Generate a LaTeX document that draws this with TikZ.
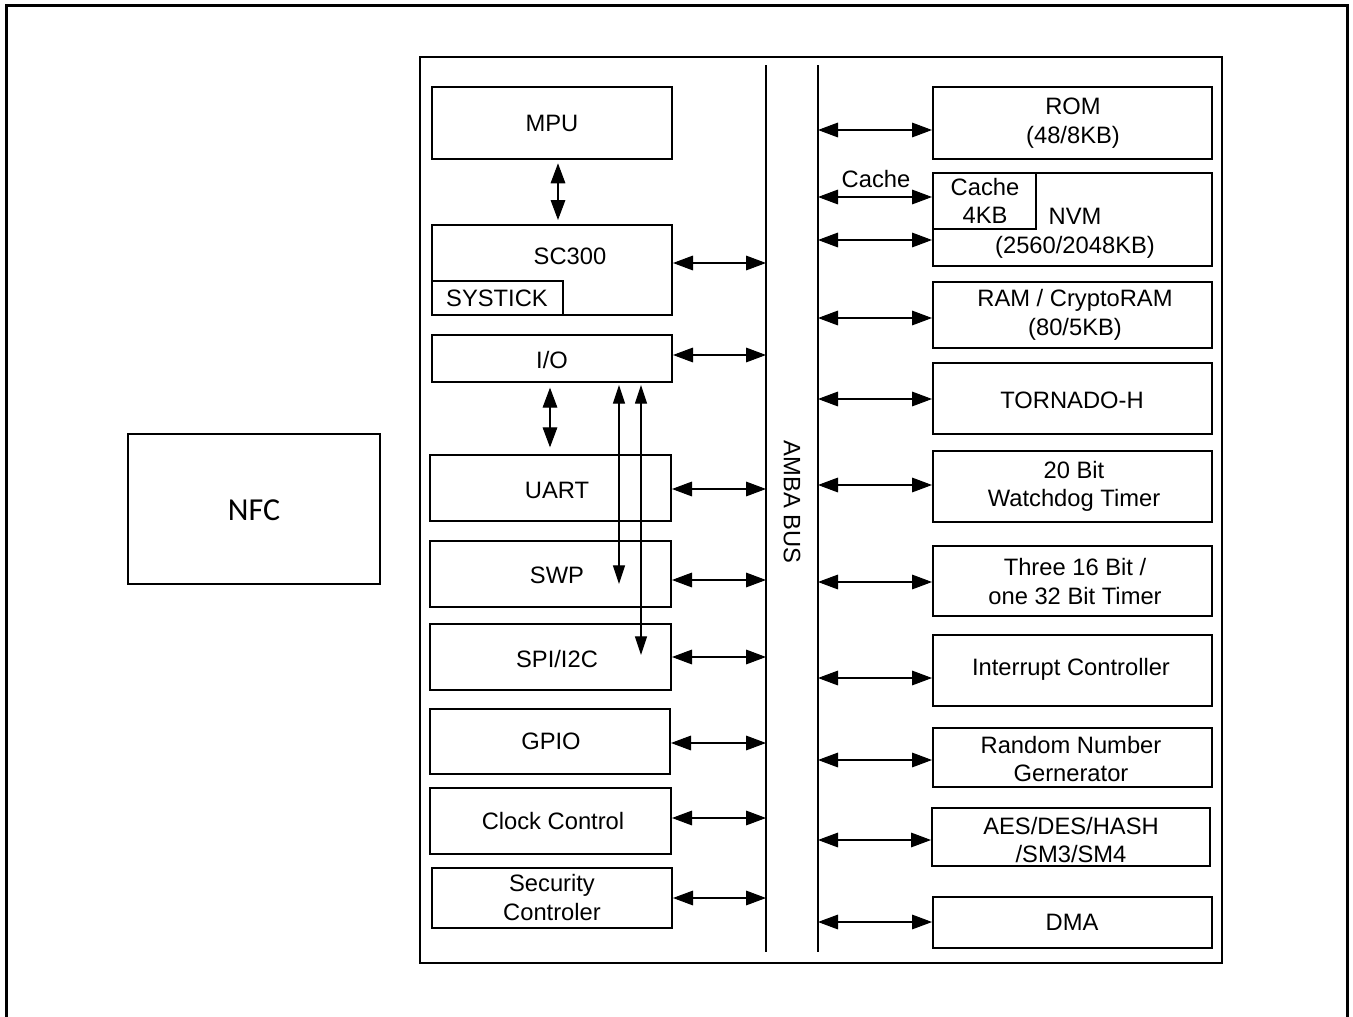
\documentclass[tikz,border=0pt]{standalone}
\usepackage{fontspec}
\setmainfont{Liberation Sans}
\newfontfamily\nfcfont{Carlito}
\usetikzlibrary{arrows.meta,fit}
\begin{document}
\begin{tikzpicture}[x=0.75pt,y=-0.75pt,
  txt/.style={font=\fontsize{17.8}{21.5}\selectfont},
  box/.style={draw, line width=1.5pt, inner sep=0pt},
  lbl/.style={inner sep=0pt, align=center, txt},
  biarrow/.style={line width=0.8pt, {Triangle[length=15pt,width=11pt]}-{Triangle[length=15pt,width=11pt]}},
  xarrow/.style={line width=0.8pt, {Triangle[length=14pt,width=9pt]}-{Triangle[length=14pt,width=9pt]}},
  busline/.style={line width=1.5pt},
  frame/.style={draw, line width=1.5pt, inner sep=0pt}]
\useasboundingbox (0,0) rectangle (1353,1017);
% outer frame (open at bottom)
\draw[line width=2.25pt] (6.5,1025) -- (6.5,5) -- (1347.5,5) -- (1347.5,1025);
% NFC
\node[frame, fit={(128,434) (380,584)}] (nfc) {};
\node[inner sep=0pt, font=\nfcfont\fontsize{24}{28}\selectfont] (nfct) at (254,510) {NFC};
% inner frame
\node[frame, fit={(420,57) (1222,963)}] (chip) {};
% bus
\coordinate (busLt) at (766,65); \coordinate (busLb) at (766,952);
\coordinate (busRt) at (818,65); \coordinate (busRb) at (818,952);
\draw[busline] (busLt) -- (busLb);
\draw[busline] (busRt) -- (busRb);
\node[lbl, rotate=-90] (amba) at (792,502) {AMBA BUS};
% left column
\node[box, fit={(432,87) (672,159)}] (mpu) {};
\node[lbl] (mput) at (552,123) {MPU};
\node[box, fit={(432,225) (672,315)}] (sc300) {};
\node[lbl] (sc300t) at (570,256) {SC300};
\node[box, fit={(432,281) (563,315)}] (systick) {};
\node[lbl] (systickt) at (497,298) {SYSTICK};
\node[box, fit={(432,335) (672,382)}] (io) {};
\node[lbl] (iot) at (552,360) {I/O};
\node[box, fit={(430,455) (671,521)}] (uart) {};
\node[lbl] (uartt) at (557,490) {UART};
\node[box, fit={(430,541) (671,607)}] (swp) {};
\node[lbl] (swpt) at (557,575) {SWP};
\node[box, fit={(430,624) (671,690)}] (spi) {};
\node[lbl] (spit) at (557,659) {SPI/I2C};
\node[box, fit={(430,709) (670,774)}] (gpio) {};
\node[lbl] (gpiot) at (551,741) {GPIO};
\node[box, fit={(430,788) (671,854)}] (clk) {};
\node[lbl] (clkt) at (553,821) {Clock Control};
\node[box, fit={(432,868) (672,928)}] (sec) {};
\node[lbl] (sect) at (552,897.5) {Security\\Controler};
% left vertical arrows
\draw[biarrow, shorten <=2.5pt, shorten >=3pt] (mpu.south -| 558,0) -- (sc300.north -| 558,0);
\draw[biarrow, shorten <=3.5pt, shorten >=5pt] (io.south -| 550,0) -- (uart.north -| 550,0);
\draw[xarrow, shorten <=1.5pt] (io.south -| 619,0) -- (619,584);
\draw[xarrow, shorten <=1.5pt] (io.south -| 641,0) -- (641,655);
% left horizontal arrows
\draw[biarrow] (sc300.east |- 0,263) -- (busLt |- 0,263);
\draw[biarrow] (io.east |- 0,355) -- (busLt |- 0,355);
\draw[biarrow] (uart.east |- 0,489) -- (busLt |- 0,489);
\draw[biarrow] (swp.east |- 0,580) -- (busLt |- 0,580);
\draw[biarrow] (spi.east |- 0,657) -- (busLt |- 0,657);
\draw[biarrow] (gpio.east |- 0,743) -- (busLt |- 0,743);
\draw[biarrow] (clk.east |- 0,818) -- (busLt |- 0,818);
\draw[biarrow] (sec.east |- 0,898) -- (busLt |- 0,898);
% right column
\node[box, fit={(933,87) (1212,159)}] (rom) {};
\node[lbl] (romt) at (1073,123) {ROM\\(48/8KB)};
\node[box, fit={(933,173) (1212,266)}] (nvm) {};
\node[box, fit={(933,173) (1036,229)}] (cache) {};
\node[lbl] (cachet) at (985,201) {Cache\\4KB};
\node[lbl] (nvmt) at (1075,233.5) {NVM\\(2560/2048KB)};
\node[box, fit={(933,282) (1212,348)}] (ram) {};
\node[lbl] (ramt) at (1075,315) {RAM / CryptoRAM\\(80/5KB)};
\node[box, fit={(933,363) (1212,434)}] (tor) {};
\node[lbl] (tort) at (1072,400) {TORNADO-H};
\node[box, fit={(933,451) (1212,522)}] (wdt) {};
\node[lbl] (wdtt) at (1074,486.5) {20 Bit\\Watchdog Timer};
\node[box, fit={(933,546) (1212,616)}] (tmr) {};
\node[lbl] (tmrt) at (1075,581.5) {Three 16 Bit /\\one 32 Bit Timer};
\node[box, fit={(933,635) (1212,706)}] (intc) {};
\node[lbl] (intct) at (1071,669) {Interrupt Controller};
\node[box, fit={(933,728) (1212,787)}] (rng) {};
\node[lbl] (rngt) at (1071,759) {Random Number\\Gernerator};
\node[box, fit={(932,808) (1210,866)}] (aes) {};
\node[lbl] (aest) at (1071,840) {AES/DES/HASH\\/SM3/SM4};
\node[box, fit={(933,897) (1212,948)}] (dma) {};
\node[lbl] (dmat) at (1072,922) {DMA};
% right arrows
\draw[biarrow] (busRt |- 0,130) -- (rom.west |- 0,130);
\draw[biarrow] (busRt |- 0,197) -- (cache.west |- 0,197);
\node[lbl] (cachel) at (876,179) {Cache};
\draw[biarrow] (busRt |- 0,240) -- (nvm.west |- 0,240);
\draw[biarrow] (busRt |- 0,318) -- (ram.west |- 0,318);
\draw[biarrow] (busRt |- 0,399) -- (tor.west |- 0,399);
\draw[biarrow] (busRt |- 0,485) -- (wdt.west |- 0,485);
\draw[biarrow] (busRt |- 0,582) -- (tmr.west |- 0,582);
\draw[biarrow] (busRt |- 0,678) -- (intc.west |- 0,678);
\draw[biarrow] (busRt |- 0,760) -- (rng.west |- 0,760);
\draw[biarrow] (busRt |- 0,840) -- (aes.west |- 0,840);
\draw[biarrow] (busRt |- 0,922) -- (dma.west |- 0,922);
\end{tikzpicture}
\end{document}
